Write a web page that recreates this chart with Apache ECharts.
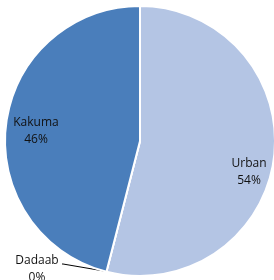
<!DOCTYPE html>
<html><head><meta charset="utf-8">
<script src="https://cdn.jsdelivr.net/npm/echarts@6/dist/echarts.min.js"></script>
<style>html,body{margin:0;padding:0;background:#fff}#c{width:274px;height:280px}</style>
</head><body><div id="c"></div>
<script>
const categories = ['Urban', 'Dadaab', 'Kakuma'];
const values = [54, 0, 46];
const colors = ['#b4c5e4', '#4a7ebb', '#4a7ebb'];

const labelSpots = {
  Urban: {x: 249, y: 172},
  Kakuma: {x: 36, y: 131},
  Dadaab: {x: 37, y: 269}
};

const chart = echarts.init(document.getElementById('c'));
chart.setOption({
  animation: false,
  series: [{
    type: 'pie',
    center: [140, 141],
    radius: 135,
    startAngle: 90,
    clockwise: true,
    avoidLabelOverlap: false,
    itemStyle: {borderColor: '#fff', borderWidth: 2},
    label: {
      show: true,
      position: 'inside',
      formatter: p => p.name + '\n' + p.value + '%',
      fontFamily: 'Open Sans',
      fontSize: 12,
      lineHeight: 17,
      color: '#111',
      align: 'center'
    },
    labelLine: {show: false},
    labelLayout: function (params) {
      const name = categories[params.dataIndex];
      const s = labelSpots[name];
      const r = {x: s.x, y: s.y, align: 'center', verticalAlign: 'middle'};
      if (name === 'Dadaab') {
        r.labelLinePoints = [[104, 271], [63, 264], [62, 264]];
      }
      return r;
    },
    data: categories.map((c, i) => ({
      name: c,
      value: values[i],
      itemStyle: {color: colors[i]},
      label: c === 'Dadaab' ? {position: 'outside'} : undefined,
      labelLine: c === 'Dadaab' ? {show: true, lineStyle: {color: '#000', width: 1}} : undefined
    }))
  }]
});
</script></body></html>
